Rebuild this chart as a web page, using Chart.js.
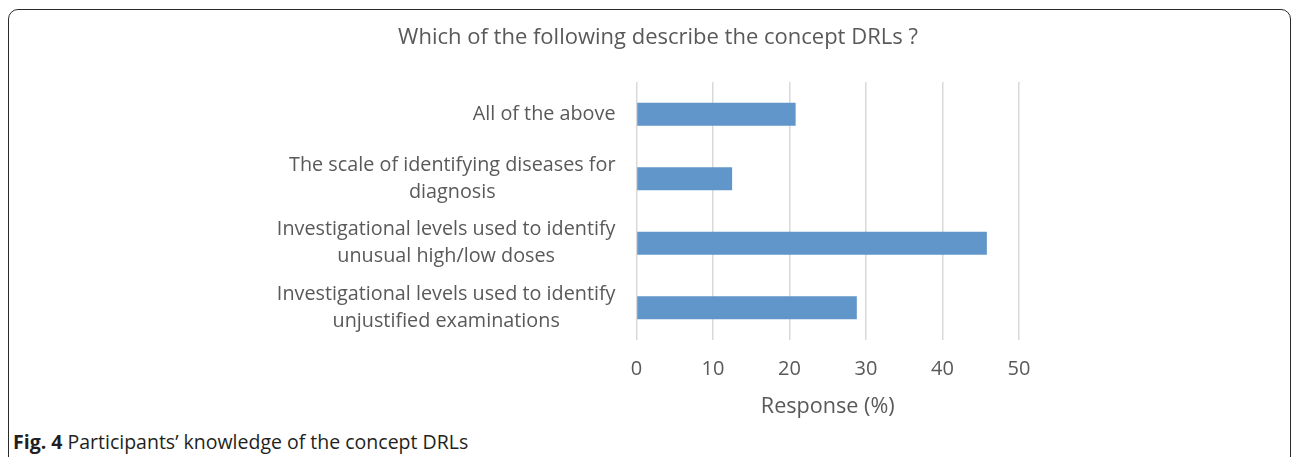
<!DOCTYPE html>
<html>
<head>
<meta charset="utf-8">
<script src="https://cdn.jsdelivr.net/npm/chart.js@4/dist/chart.umd.min.js"></script>
<style>
    html, body { margin: 0; padding: 0; background: #fff; overflow: hidden; width: 1292px; height: 457px; }
    #frame {
        position: absolute; left: 8px; top: 9px; width: 1283px; height: 520px;
        box-sizing: border-box; border: 1.5px solid #2a2a2a; border-radius: 10px;
    }
    #wrap { position: absolute; left: 0; top: 0; width: 1292px; height: 420px; }
    #caption {
        position: absolute; left: 13px; top: 428px;
        font-family: "Open Sans", sans-serif; font-size: 19.5px; color: #231f20; white-space: nowrap;
    }
</style>
</head>
<body>
<div id="frame"></div>
<div id="wrap"><canvas id="chart"></canvas></div>
<div id="caption"><b>Fig. 4</b> Participants’ knowledge of the concept DRLs</div>
<script>
const categories = [
    ['All of the above'],
    ['The scale of identifying diseases for', 'diagnosis'],
    ['Investigational levels used to identify', 'unusual high/low doses'],
    ['Investigational levels used to identify', 'unjustified examinations']
];
const responses = [20.8, 12.5, 45.8, 28.8];
const xTicks = [0, 10, 20, 30, 40, 50];

const textColor = '#595959';
const fontFamily = '"Open Sans", sans-serif';

// Excel-style category labels: lines centred inside a right-aligned block
const categoryLabels = {
    id: 'categoryLabels',
    afterDraw(chart) {
        const scale = chart.scales.y;
        const ctx = chart.ctx;
        const lineH = 27;
        ctx.save();
        ctx.font = '19.8px ' + fontFamily;
        ctx.fillStyle = textColor;
        ctx.textAlign = 'center';
        ctx.textBaseline = 'middle';
        categories.forEach((lines, i) => {
            const yc = scale.getPixelForTick(i);
            const w = Math.max(...lines.map(l => ctx.measureText(l).width));
            const cx = scale.right - 21 - w / 2;
            lines.forEach((l, j) => {
                ctx.fillText(l, cx, yc + (j - (lines.length - 1) / 2) * lineH);
            });
        });
        ctx.restore();
    }
};

new Chart(document.getElementById('chart'), {
    type: 'bar',
    data: {
        labels: categories,
        datasets: [{
            data: responses,
            backgroundColor: '#6096ca',
            borderWidth: 0,
            categoryPercentage: 0.4,
            barPercentage: 0.9
        }]
    },
    options: {
        indexAxis: 'y',
        responsive: true,
        maintainAspectRatio: false,
        animation: false,
        layout: { padding: { left: 297, right: 273, top: 0, bottom: 0 } },
        plugins: {
            legend: { display: false },
            tooltip: { enabled: false },
            title: {
                display: true,
                text: 'Which of the following describe the concept DRLs ?',
                color: textColor,
                font: { family: fontFamily, size: 22, weight: 'normal' },
                padding: { top: 25, bottom: 30.6 }
            }
        },
        scales: {
            x: {
                min: 0,
                max: 50,
                afterBuildTicks: scale => { scale.ticks = xTicks.map(v => ({ value: v })); },
                afterFit: scale => { scale.height = 80; },
                grid: { color: '#d9d9d9', lineWidth: 1.5, drawTicks: false },
                border: { display: false },
                ticks: { color: textColor, font: { family: fontFamily, size: 20 }, padding: 17 },
                title: {
                    display: true,
                    text: 'Response (%)',
                    color: textColor,
                    font: { family: fontFamily, size: 21.6 },
                    padding: { top: 0, bottom: 0 }
                }
            },
            y: {
                grid: { display: false },
                border: { display: false },
                ticks: { display: false },
                afterFit: scale => { scale.width = 339.5; }
            }
        }
    },
    plugins: [categoryLabels]
});
</script>
</body>
</html>
